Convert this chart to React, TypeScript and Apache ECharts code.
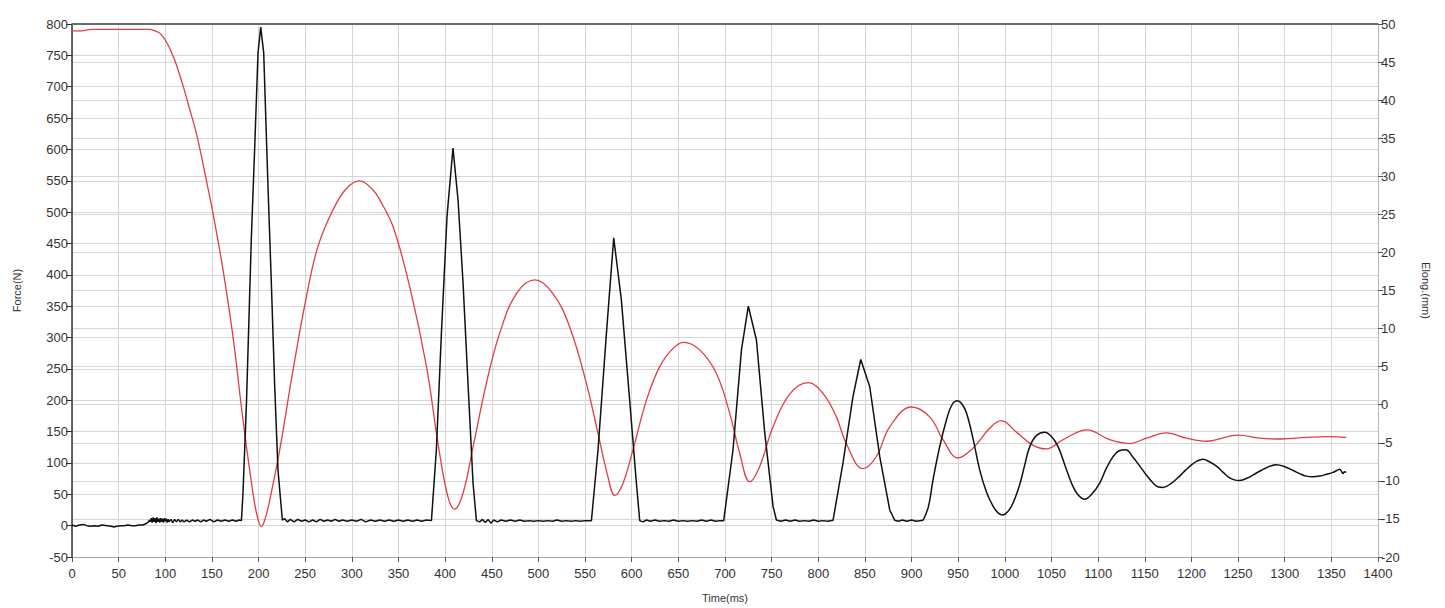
import React, { useEffect, useRef } from "react";
import * as echarts from "echarts";

// Time ticks (ms)
const timeMin = 0;
const timeMax = 1400;
const timeInterval = 50;

// Force axis (N), left
const forceMin = -50;
const forceMax = 800;
const forceInterval = 50;

// Elong axis (mm), right
const elongMin = -20;
const elongMax = 50;
const elongInterval = 5;

// Time where the force trace stops returning to its baseline and starts to ring
const ringStart = 912.3;

// Force(N) series: [time ms, force N]
const forceData: [number, number][] = [
  [0, 1], [4, -1], [8, 1], [12, 2], [16, 0], [20, -1], [24, 0], [28, -1], [32, 1], [38, 0], [42, -1], [45, -2],
  [48, -1], [52, 0], [56, 0], [60, 1], [64, 0], [68, 0], [72, 1], [76, 1], [79, 3], [82, 6],
  [83, 9], [84, 6], [85, 12], [86, 5], [87, 13], [88, 6], [89, 12], [90, 4], [91, 13], [92, 6], [93, 11],
  [94, 5], [95, 12], [96, 6], [97, 11], [98, 5], [99, 12], [100, 7], [101, 11], [102, 5], [103, 10],
  [104, 6], [106, 10], [108, 5], [110, 10], [112, 6], [114, 10], [116, 6], [118, 9], [120, 6], [123, 9],
  [126, 6], [129, 9], [132, 7], [135, 9], [138, 6], [141, 9], [144, 7], [148, 10], [152, 6], [156, 9],
  [160, 7], [164, 9], [168, 7], [172, 9], [176, 7], [179, 9], [181.6, 8],
  [183.3, 52], [187, 195], [192.3, 461], [195.9, 605], [199.4, 754], [202.3, 795], [205.5, 754],
  [210.1, 541], [213.8, 382], [217.3, 222], [220.8, 89], [225.5, 9],
  [228, 11], [231, 6], [234, 10], [238, 6], [242, 10], [246, 7], [250, 9], [254, 6], [258, 9], [262, 6],
  [266, 10], [270, 7], [274, 9], [278, 7], [282, 10], [286, 7], [290, 9], [295, 7], [300, 9], [305, 7],
  [310, 10], [315, 6], [320, 9], [325, 7], [330, 9], [335, 7], [340, 9], [345, 7], [350, 9], [355, 7],
  [360, 9], [365, 7], [370, 9], [375, 7], [380, 9], [385.3, 8],
  [390.6, 121], [396, 307], [402, 493], [408.4, 602], [413.8, 520], [419.2, 387], [424.5, 227], [429.9, 68], [433.5, 8],
  [437, 6], [440, 10], [443, 5], [446, 10], [449, 4], [452, 9], [456, 6], [460, 9], [465, 7], [470, 9],
  [475, 7], [480, 9], [485, 7], [490, 8], [495, 7], [500, 8], [505, 7], [510, 8], [515, 7], [520, 9],
  [525, 7], [530, 8], [535, 7], [540, 8], [545, 7], [550, 8], [556.8, 8],
  [563.9, 121], [572.9, 307], [580.7, 459], [588.9, 360], [597.8, 200], [605, 68], [608.6, 8],
  [612, 6], [616, 9], [620, 7], [625, 9], [630, 7], [635, 8], [640, 7], [645, 9], [650, 7], [655, 8],
  [660, 7], [665, 8], [670, 7], [675, 9], [680, 7], [685, 9], [690, 7], [694, 8], [698.6, 8],
  [708.6, 121], [717.6, 280], [725, 350], [733.7, 296], [742.6, 148], [751.5, 31], [755.1, 9],
  [760, 7], [765, 9], [770, 7], [775, 9], [780, 7], [785, 8], [790, 7], [795, 9], [800, 7], [805, 8],
  [810, 7], [815.8, 8.5],
  [826.5, 100], [837.2, 206], [845.5, 265], [855.1, 222], [865.9, 110], [876.6, 25], [882, 8.5],
  [886, 7], [890, 9], [895, 7], [900, 9], [905, 7], [912.3, 8.5],
  [918, 30], [923, 73], [930, 125], [937.3, 168], [943, 192], [949.1, 199], [954, 194], [958.8, 180],
  [966, 138], [973, 89], [980, 55], [987.3, 31], [993, 20], [998, 17], [1003, 22],
  [1008.8, 36], [1016, 66], [1021, 95], [1026.7, 126], [1034, 144], [1042.8, 149], [1050, 142], [1057, 126],
  [1064, 98], [1071.4, 68], [1078, 50], [1085.6, 42], [1093, 50], [1101.7, 68], [1109, 92], [1116, 110],
  [1122, 119], [1129.6, 121], [1137, 110], [1144.6, 95], [1152, 80], [1158.9, 68], [1164, 62], [1169.7, 61],
  [1178, 67], [1187.4, 79], [1194, 89], [1200, 97], [1206, 103], [1212.4, 106], [1219, 102], [1226.8, 95],
  [1234, 85], [1241, 76], [1246, 73], [1251.7, 72], [1260, 76], [1269.7, 84], [1280, 92], [1291.1, 97],
  [1300, 94], [1309, 88], [1316, 83], [1323.3, 79], [1330, 78], [1337.5, 79], [1345, 82], [1351.8, 85],
  [1356, 88], [1359, 90], [1361, 86], [1362.5, 83], [1364, 86], [1366, 85],
];

// Elong.(mm) series: [time ms, elongation mm]
const elongData: [number, number][] = [
  [0, 49.1], [10, 49.1], [20.8, 49.3], [50, 49.3], [83.3, 49.3], [89, 49.1], [94, 48.8], [101, 47.7],
  [109, 45.6], [117.3, 42.6], [125, 39.3], [133.4, 35.6],
  [144, 29.5], [151.2, 25.1], [161.9, 17.7], [172.6, 8.9], [183.3, -2.0], [194, -11.6], [199, -14.9], [203, -16.0],
  [207, -15.0], [212, -12.5], [222.7, -5.9], [237, 4.6], [251.3, 14.2], [263.7, 20.8], [279.8, 25.6], [294.2, 28.4],
  [308.4, 29.4], [322.7, 28.2], [329.9, 26.9], [344.1, 23.4], [362, 15.5], [380, 5.0], [392.4, -5.1],
  [403, -12.1], [410.3, -13.7], [419.2, -11.6], [430, -5.5], [444.2, 2.8], [458.5, 9.4], [476.4, 14.6],
  [496, 16.4], [515.6, 14.6], [533.5, 10.2], [551.4, 2.8], [563.9, -3.8], [574.6, -9.5], [581.8, -11.9],
  [590.7, -10.3], [601.4, -5.9], [615.8, 0.6], [630, 5.0], [644.3, 7.4], [655.8, 8.2], [672.9, 7.2],
  [690.8, 4.1], [705, -1.1], [715.8, -6.4], [726.5, -10.1], [737.2, -8.1], [751.5, -2.9], [769.4, 1.4],
  [789, 2.9], [805, 1.5], [819.4, -1.6], [830, -5.1], [848, -8.4], [862.3, -6.8], [876.6, -2.9],
  [899.8, -0.3], [919.4, -1.6], [933.7, -4.6], [949.8, -7.0], [965.8, -5.7], [983.7, -3.1], [996, -2.1],
  [1012.4, -3.6], [1030, -5.3], [1044.5, -5.8], [1062.3, -4.6], [1088, -3.3], [1112.4, -4.6],
  [1133.9, -5.1], [1151.7, -4.4], [1173, -3.7], [1194.7, -4.4], [1216, -4.8], [1250, -4.0],
  [1273.3, -4.4], [1296.6, -4.5], [1323.3, -4.3], [1346.5, -4.2], [1366, -4.3],
];

const FONT = "Liberation Sans, Arial, sans-serif";
const plain = (v: number) => String(v);

// plot area box (px)
const GRID = { left: 72, right: 67, top: 24, bottom: 51 };
const W = 1445;

export default function App() {
  const ref = useRef<HTMLDivElement>(null);
  useEffect(() => {
    if (!ref.current) return;
    const chart = echarts.init(ref.current, null, { renderer: "svg" });
    const forceImpacts = forceData.filter((d) => d[0] <= ringStart);
    const forceRinging = forceData.filter((d) => d[0] >= ringStart);
    const blackLine = { color: "#111111", width: 1.5 };
    chart.setOption({
      animation: false,
      backgroundColor: "#ffffff",
      textStyle: { fontFamily: FONT },
      grid: { ...GRID, containLabel: false },
      graphic: [
        {
          type: "line",
          shape: { x1: GRID.left, y1: GRID.top, x2: W - GRID.right, y2: GRID.top },
          style: { stroke: "#6a6a6a", lineWidth: 2 },
          z: 10,
        },
      ],
      xAxis: {
        type: "value",
        min: timeMin,
        max: timeMax,
        interval: timeInterval,
        position: "bottom",
        name: "Time(ms)",
        nameLocation: "middle",
        nameGap: 35,
        nameTextStyle: { fontSize: 11, color: "#333", fontFamily: FONT },
        axisLine: { show: true, onZero: false, lineStyle: { color: "#a8a8a8", width: 1 } },
        axisTick: { show: true, length: 5, lineStyle: { color: "#555" } },
        axisLabel: { fontSize: 13, color: "#333", margin: 10, fontFamily: FONT, formatter: plain },
        splitLine: { show: true, lineStyle: { color: "#d6d6d6", width: 1 } },
      },
      yAxis: [
        {
          type: "value",
          min: forceMin,
          max: forceMax,
          interval: forceInterval,
          position: "left",
          name: "Force(N)",
          nameLocation: "middle",
          nameGap: 50,
          nameRotate: 90,
          nameTextStyle: { fontSize: 11, color: "#333", fontFamily: FONT },
          axisLine: { show: true, onZero: false, lineStyle: { color: "#333", width: 1.5 } },
          axisTick: { show: true, length: 6, lineStyle: { color: "#333" } },
          axisLabel: { fontSize: 13, color: "#333", margin: 4, fontFamily: FONT, formatter: plain },
          splitLine: { show: true, lineStyle: { color: "#d6d6d6", width: 1 } },
        },
        {
          type: "value",
          min: elongMin,
          max: elongMax,
          interval: elongInterval,
          position: "right",
          name: "Elong.(mm)",
          nameLocation: "middle",
          nameGap: 42,
          nameRotate: -90,
          nameTextStyle: { fontSize: 11, color: "#333", fontFamily: FONT },
          axisLine: { show: true, onZero: false, lineStyle: { color: "#b8b8b8", width: 1 } },
          axisTick: { show: true, length: 5, lineStyle: { color: "#555" } },
          axisLabel: { fontSize: 13, color: "#333", margin: 3, fontFamily: FONT, formatter: plain },
          splitLine: { show: true, lineStyle: { color: "#d6d6d6", width: 1 } },
        },
      ],
      series: [
        {
          type: "line",
          name: "Elong.(mm)",
          yAxisIndex: 1,
          data: elongData,
          showSymbol: false,
          smooth: 0.4,
          lineStyle: { color: "#e23c44", width: 1.3 },
          z: 2,
        },
        {
          type: "line",
          name: "Force(N)",
          yAxisIndex: 0,
          data: forceImpacts,
          showSymbol: false,
          smooth: false,
          lineStyle: blackLine,
          z: 3,
        },
        {
          type: "line",
          name: "Force(N)",
          yAxisIndex: 0,
          data: forceRinging,
          showSymbol: false,
          smooth: 0.4,
          lineStyle: blackLine,
          z: 3,
        },
      ],
    });
    return () => chart.dispose();
  }, []);
  return (
    <div
      ref={ref}
      style={{ position: "fixed", left: 0, top: 0, width: W, height: 608, background: "#fff" }}
    />
  );
}
